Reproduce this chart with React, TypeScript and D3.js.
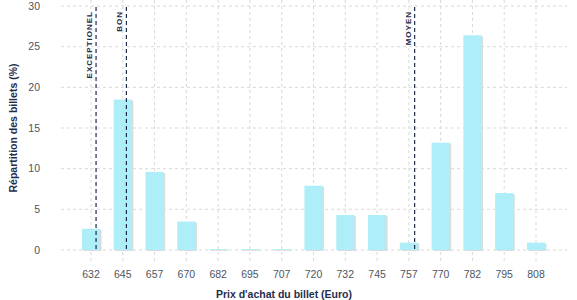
import React, { useEffect, useRef } from 'react';
import * as d3 from 'd3';

const prices = ['632', '645', '657', '670', '682', '695', '707', '720', '732', '745', '757', '770', '782', '795', '808'];
const shares = [2.6, 18.5, 9.6, 3.5, 0.1, 0.1, 0.1, 7.9, 4.3, 4.3, 0.9, 13.2, 26.4, 7.0, 0.9];
const yTicks = [0, 5, 10, 15, 20, 25, 30];
const thresholdLabels = ['EXCEPTIONEL', 'BON', 'MOYEN'];
const thresholdPrices = [634, 646, 760];

const W = 577;
const H = 300;

const App: React.FC = () => {
  const svgRef = useRef<SVGSVGElement>(null);

  useEffect(() => {
    if (!svgRef.current) return;
    const svg = d3.select(svgRef.current);
    svg.selectAll('*').remove();

    const font = '"Liberation Sans", Arial, sans-serif';
    const navy = '#1f2d4d';
    const grid = '#d9d9d9';

    // category centres
    const x = d3.scalePoint<string>().domain(prices).range([91, 536]);
    const step = x.step();
    const barW = step * 0.57;
    // continuous price -> pixel, for threshold lines
    const xc = d3.scaleLinear()
      .domain([+prices[0], +prices[prices.length - 1]])
      .range([91, 536]);
    const y = d3.scaleLinear().domain([0, 30]).range([250, 6]);

    const panelLeft = 61;
    const panelRight = 567;

    // horizontal grid
    svg.append('g').selectAll('line')
      .data(yTicks)
      .join('line')
      .attr('x1', panelLeft).attr('x2', panelRight)
      .attr('y1', d => y(d)).attr('y2', d => y(d))
      .attr('stroke', grid).attr('stroke-dasharray', '3,3');

    // vertical grid
    svg.append('g').selectAll('line')
      .data(prices)
      .join('line')
      .attr('x1', d => x(d)!).attr('x2', d => x(d)!)
      .attr('y1', 0).attr('y2', 262)
      .attr('stroke', grid).attr('stroke-dasharray', '3,3');

    // bar shadows
    svg.append('g').selectAll('rect')
      .data(shares)
      .join('rect')
      .attr('x', (d, i) => x(prices[i])! - barW / 2 + 1.5)
      .attr('y', d => y(d) + 1)
      .attr('width', barW)
      .attr('height', d => Math.max(0, y(0) - y(d)))
      .attr('fill', '#dcdcdc');

    // bars
    svg.append('g').selectAll('rect')
      .data(shares)
      .join('rect')
      .attr('x', (d, i) => x(prices[i])! - barW / 2)
      .attr('y', d => y(d))
      .attr('width', barW)
      .attr('height', d => Math.max(0.6, y(0) - y(d)))
      .attr('fill', '#aeeef9');

    // threshold lines + labels
    thresholdPrices.forEach((p, i) => {
      const lx = xc(p);
      svg.append('line')
        .attr('x1', lx).attr('x2', lx)
        .attr('y1', 7).attr('y2', 250)
        .attr('stroke', navy).attr('stroke-width', 1.2)
        .attr('stroke-dasharray', '4,3');
      svg.append('text')
        .attr('transform', `translate(${lx - 4},11) rotate(-90)`)
        .attr('text-anchor', 'end')
        .attr('font-family', font)
        .attr('font-size', 8)
        .attr('font-weight', 'bold')
        .attr('letter-spacing', 1)
        .attr('fill', navy)
        .text(thresholdLabels[i]);
    });

    // y tick labels
    svg.append('g').selectAll('text')
      .data(yTicks)
      .join('text')
      .attr('x', 40)
      .attr('y', d => y(d))
      .attr('dy', '0.35em')
      .attr('text-anchor', 'end')
      .attr('font-family', font)
      .attr('font-size', 10.5)
      .attr('fill', '#505560')
      .text(d => d);

    // x tick labels
    svg.append('g').selectAll('text')
      .data(prices)
      .join('text')
      .attr('x', d => x(d)!)
      .attr('y', 274)
      .attr('dy', '0.35em')
      .attr('text-anchor', 'middle')
      .attr('font-family', font)
      .attr('font-size', 10.5)
      .attr('fill', '#505560')
      .text(d => d);

    // axis titles
    svg.append('text')
      .attr('x', 284).attr('y', 294)
      .attr('dy', '0.35em')
      .attr('text-anchor', 'middle')
      .attr('font-family', font)
      .attr('font-size', 10.5)
      .attr('font-weight', 'bold')
      .attr('fill', navy)
      .text("Prix d'achat du billet (Euro)");

    svg.append('text')
      .attr('transform', `translate(13,128) rotate(-90)`)
      .attr('dy', '0.35em')
      .attr('text-anchor', 'middle')
      .attr('font-family', font)
      .attr('font-size', 10.5)
      .attr('font-weight', 'bold')
      .attr('fill', navy)
      .text('Répartition des billets (%)');
  }, []);

  return (
    <div style={{ position: 'absolute', left: 0, top: 0, width: W, height: H, background: '#fff' }}>
      <svg ref={svgRef} width={W} height={H} />
    </div>
  );
};

export default App;
